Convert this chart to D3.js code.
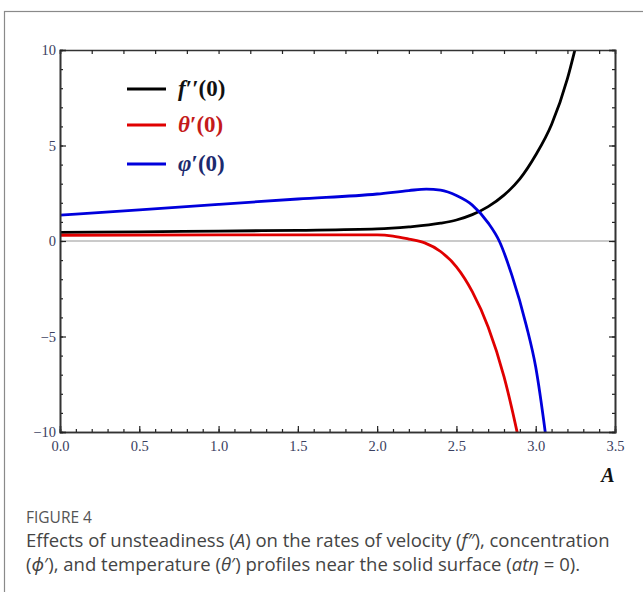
<!DOCTYPE html>
<html>
<head>
<meta charset="utf-8">
<script src="https://cdn.jsdelivr.net/npm/d3@7"></script>
<style>
  body { margin: 0; background: #fff; }
  svg { display: block; }
</style>
</head>
<body>
<div id="chart"></div>
<script>
// values
var fppA   = [0, 0.5, 1.0, 1.5, 2.0, 2.2, 2.4, 2.5, 2.6, 2.7, 2.8, 2.9, 3.0, 3.1, 3.2, 3.25, 3.3];
var fppVal = [0.45, 0.48, 0.52, 0.56, 0.63, 0.74, 0.93, 1.1, 1.38, 1.8, 2.4, 3.25, 4.5, 6.1, 8.5, 10.1, 11.8];

var thA   = [0, 1.0, 2.0, 2.1, 2.2, 2.3, 2.4, 2.5, 2.6, 2.7, 2.8, 2.88, 2.92];
var thVal = [0.3, 0.32, 0.32, 0.26, 0.1, -0.1, -0.55, -1.35, -2.65, -4.5, -7.1, -9.9, -11.5];

var phA   = [0, 0.5, 1.0, 1.5, 2.0, 2.2, 2.31, 2.4, 2.5, 2.6, 2.7, 2.77, 2.85, 2.94, 3.0, 3.06, 3.08];
var phVal = [1.35, 1.63, 1.92, 2.2, 2.46, 2.64, 2.72, 2.66, 2.38, 1.88, 0.95, 0.0, -1.8, -4.4, -6.6, -10.0, -11.3];

var xTicks = [0, 0.5, 1.0, 1.5, 2.0, 2.5, 3.0, 3.5];
var yTicks = [-10, -5, 0, 5, 10];

(function() {
  var series = [
    {name: "fpp", xs: fppA, ys: fppVal, color: "#000000"},
    {name: "theta", xs: thA, ys: thVal, color: "#e00000"},
    {name: "phi", xs: phA, ys: phVal, color: "#0000dc"}
  ];

  var W = 643, H = 592;
  var pl = 60, pr = 615, pt = 50, pb = 432;

  var svg = d3.select("#chart").append("svg")
    .attr("width", W)
    .attr("height", H);

  // card outline
  svg.append("rect")
    .attr("x", 4.5).attr("y", 11.5)
    .attr("width", 700).attr("height", 700)
    .attr("fill", "none")
    .attr("stroke", "#8a8a8a")
    .attr("stroke-width", 1.2);

  var x = d3.scaleLinear().domain([0, 3.5]).range([pl, pr]);
  var y = d3.scaleLinear().domain([-10, 10]).range([pb, pt]);

  svg.append("clipPath").attr("id", "clip")
    .append("rect")
    .attr("x", pl).attr("y", pt)
    .attr("width", pr - pl).attr("height", pb - pt);

  // zero line
  svg.append("line")
    .attr("x1", x(0)).attr("x2", x(3.5))
    .attr("y1", y(0)).attr("y2", y(0))
    .attr("stroke", "#b8b8b8")
    .attr("stroke-width", 1.6);

  var line = d3.line()
    .x(function(d) { return x(d[0]); })
    .y(function(d) { return y(d[1]); })
    .curve(d3.curveMonotoneX);

  var curves = svg.append("g").attr("clip-path", "url(#clip)");
  series.forEach(function(s) {
    curves.append("path")
      .datum(d3.zip(s.xs, s.ys))
      .attr("d", line)
      .attr("fill", "none")
      .attr("stroke", s.color)
      .attr("stroke-width", 2.8)
      .attr("stroke-linejoin", "round");
  });

  // frame axes, ticks inward
  var labelFont = "'Liberation Serif', 'DejaVu Serif', serif";

  var xMinor = d3.range(0, 3.5001, 0.1);
  var yMinor = d3.range(-10, 10.001, 1);

  svg.append("g").attr("transform", `translate(0,${pb})`)
    .call(d3.axisBottom(x).tickValues(xMinor).tickSize(-3).tickFormat(""));
  svg.append("g").attr("class", "xlab").attr("transform", `translate(0,${pb})`)
    .call(d3.axisBottom(x).tickValues(xTicks).tickSize(-6).tickPadding(9)
      .tickFormat(d3.format(".1f")));

  svg.append("g").attr("transform", `translate(0,${pt})`)
    .call(d3.axisTop(x).tickValues(d3.range(0, 3.5001, 0.2)).tickSize(-4).tickFormat(""));

  svg.append("g").attr("transform", `translate(${pl},0)`)
    .call(d3.axisLeft(y).tickValues(yMinor).tickSize(-3).tickFormat(""));
  svg.append("g").attr("class", "ylab").attr("transform", `translate(${pl},0)`)
    .call(d3.axisLeft(y).tickValues(yTicks).tickSize(-6).tickPadding(4)
      .tickFormat(function(d) { return d < 0 ? "\u2212" + (-d) : d; }));

  svg.append("g").attr("transform", `translate(${pr},0)`)
    .call(d3.axisRight(y).tickValues(yMinor).tickSize(-3).tickFormat(""));
  svg.append("g").attr("transform", `translate(${pr},0)`)
    .call(d3.axisRight(y).tickValues(yTicks).tickSize(-6).tickFormat(""));

  svg.selectAll(".domain").attr("stroke", "#333").attr("stroke-width", 1.6);
  svg.selectAll(".tick line").attr("stroke", "#222").attr("stroke-width", 1.2);
  svg.selectAll(".xlab text, .ylab text")
    .style("font-family", labelFont)
    .style("font-size", "14.5px")
    .attr("fill", "#3a4060");

  // axis title
  svg.append("text")
    .attr("x", 608).attr("y", 482)
    .attr("text-anchor", "middle")
    .attr("font-family", labelFont)
    .attr("font-size", 20)
    .attr("font-weight", "bold")
    .attr("font-style", "italic")
    .attr("fill", "#111")
    .text("A");

  // legend
  var legendItems = [
    {color: "#000000", text: "#111111", sym: "f", tail: "\u2032\u2032(0)"},
    {color: "#e00000", text: "#c41a1a", sym: "\u03b8", tail: "\u2032(0)"},
    {color: "#0000dc", text: "#1c2a6e", sym: "\u03c6", tail: "\u2032(0)"}
  ];
  var legY = [89, 125, 164];
  legendItems.forEach(function(d, i) {
    svg.append("line")
      .attr("x1", 127).attr("x2", 166)
      .attr("y1", legY[i]).attr("y2", legY[i])
      .attr("stroke", d.color)
      .attr("stroke-width", 3);
    var t = svg.append("text")
      .attr("x", 178).attr("y", legY[i] + 7)
      .attr("font-family", labelFont)
      .attr("font-size", 23)
      .attr("font-weight", "bold")
      .attr("fill", d.text);
    t.append("tspan").attr("font-style", "italic").text(d.sym);
    t.append("tspan").text(d.tail);
  });

  // caption
  var capFont = "'Open Sans', 'Noto Sans', sans-serif";
  svg.append("text")
    .attr("x", 26).attr("y", 523)
    .attr("font-family", capFont)
    .attr("font-size", 15.5)
    .attr("fill", "#555")
    .text("FIGURE 4");

  var cap1 = svg.append("text")
    .attr("x", 26).attr("y", 547)
    .attr("font-family", capFont)
    .attr("font-size", 18.5)
    .attr("fill", "#444");
  cap1.append("tspan").text("Effects of unsteadiness (");
  cap1.append("tspan").attr("font-style", "italic").text("A");
  cap1.append("tspan").text(") on the rates of velocity (");
  cap1.append("tspan").attr("font-style", "italic").text("f\u2033");
  cap1.append("tspan").text("), concentration");

  var cap2 = svg.append("text")
    .attr("x", 26).attr("y", 571)
    .attr("font-family", capFont)
    .attr("font-size", 18.5)
    .attr("fill", "#444");
  cap2.append("tspan").text("(");
  cap2.append("tspan").attr("font-style", "italic").text("\u03d5");
  cap2.append("tspan").text("\u2032), and temperature (");
  cap2.append("tspan").attr("font-style", "italic").text("\u03b8");
  cap2.append("tspan").text("\u2032) profiles near the solid surface (");
  cap2.append("tspan").attr("font-style", "italic").text("at\u03b7");
  cap2.append("tspan").text(" = 0).");
})();
</script>
</body>
</html>
